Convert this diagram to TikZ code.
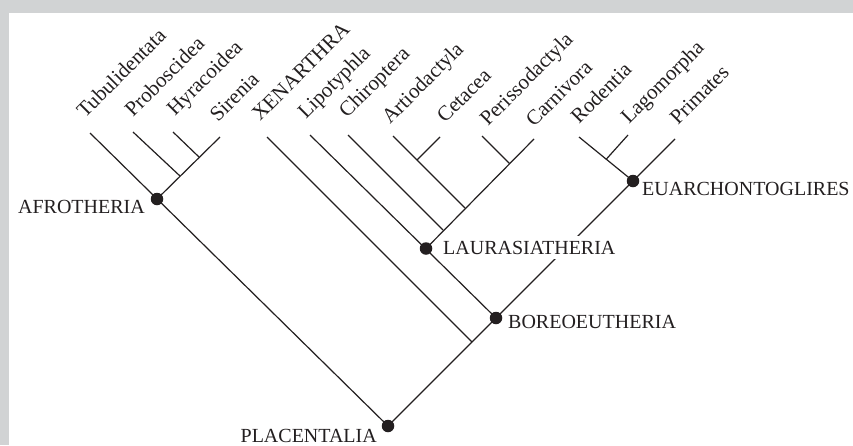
\documentclass[tikz,border=0pt]{standalone}
\usepackage{fontspec}
\setmainfont{Liberation Serif}
\definecolor{ink}{HTML}{231F20}
\definecolor{framegrey}{HTML}{D1D3D4}
\begin{document}
\begin{tikzpicture}[x=1pt,y=-1pt,
  branch/.style={draw=ink,line width=1.2pt},
  dotnode/.style={circle,fill=ink,inner sep=0pt,minimum size=12.5pt},
  taxon/.style={anchor=base west,rotate=45,inner sep=0pt,text=ink,font=\fontsize{21}{21}\selectfont},
  cladeR/.style={anchor=base west,inner sep=0pt,text=ink,font=\fontsize{20}{20}\selectfont},
  cladeL/.style={anchor=base east,inner sep=0pt,text=ink,font=\fontsize{20}{20}\selectfont}]
\useasboundingbox (0,0) rectangle (853,445);
\fill[framegrey] (0,0) rectangle (853,445);
\fill[white] (9,13) rectangle (853,445);

% tips
\coordinate (tTub) at (90,133);
\coordinate (tPro) at (133,132);
\coordinate (tHyr) at (173,132);
\coordinate (tSir) at (220,137);
\coordinate (tXen) at (267,137);
\coordinate (tLip) at (310,135);
\coordinate (tChi) at (348,135);
\coordinate (tArt) at (393,136);
\coordinate (tCet) at (440,137);
\coordinate (tPer) at (482,136);
\coordinate (tCar) at (534,139);
\coordinate (tRod) at (579,137);
\coordinate (tLag) at (628,135);
\coordinate (tPri) at (675,139);

% junctions
\coordinate (jPro) at (180,176);
\coordinate (jHyr) at (199,157);
\coordinate (jXen) at (472,342);
\coordinate (jChi) at (443,230);
\coordinate (jArt) at (465,208);
\coordinate (jCet) at (417,160);
\coordinate (jPer) at (509.5,163.5);
\coordinate (jLag) at (606,159.5);

% clade nodes
\coordinate (afro) at (157,199);
\coordinate (plac) at (388,426);
\coordinate (boreo) at (496,318);
\coordinate (laura) at (426,248.5);
\coordinate (euarch) at (633,181);

% branches
\draw[branch] (tTub) -- (plac);
\draw[branch] (tSir) -- (afro);
\draw[branch] (tPro) -- (jPro);
\draw[branch] (tHyr) -- (jHyr);
\draw[branch] (plac) -- (tPri);
\draw[branch] (tXen) -- (jXen);
\draw[branch] (tLip) -- (boreo);
\draw[branch] (tCar) -- (laura);
\draw[branch] (tChi) -- (jChi);
\draw[branch] (tArt) -- (jArt);
\draw[branch] (tCet) -- (jCet);
\draw[branch] (tPer) -- (jPer);
\draw[branch] (tRod) -- (euarch);
\draw[branch] (tLag) -- (jLag);

% dots
\node[dotnode] (dAfro) at (afro) {};
\node[dotnode] (dPlac) at (plac) {};
\node[dotnode] (dBoreo) at (boreo) {};
\node[dotnode] (dLaura) at (laura) {};
\node[dotnode] (dEuarch) at (euarch) {};

% clade labels
\node[cladeL] (lAfro) at (145,213) {AFROTHERIA};
\node[cladeL] (lPlac) at (377,442) {PLACENTALIA};
\node[cladeR] (lEuarch) at (642,195) {EUARCHONTOGLIRES};
\node[cladeR,fill=white,inner ysep=5pt,inner xsep=1pt,anchor=base west] (lLaura) at (442,254) {LAURASIATHERIA};
\node[cladeR] (lBoreo) at (508,328) {BOREOEUTHERIA};

% taxon labels
\node[taxon] (nTub) at (85,119) {Tubulidentata};
\node[taxon] (nPro) at (133,118) {Proboscidea};
\node[taxon] (nHyr) at (175,117) {Hyracoidea};
\node[taxon] (nSir) at (218,123) {Sirenia};
\node[taxon] (nXen) at (260,122) {XENARTHRA};
\node[taxon] (nLip) at (306,120) {Lipotyphla};
\node[taxon] (nChi) at (347,119) {Chiroptera};
\node[taxon] (nArt) at (390,125) {Artiodactyla};
\node[taxon] (nCet) at (445,124) {Cetacea};
\node[taxon] (nPer) at (488,127) {Perissodactyla};
\node[taxon] (nCar) at (534,128) {Carnivora};
\node[taxon] (nRod) at (579,125) {Rodentia};
\node[taxon] (nLag) at (629,125) {Lagomorpha};
\node[taxon] (nPri) at (678,126) {Primates};
\end{tikzpicture}
\end{document}
